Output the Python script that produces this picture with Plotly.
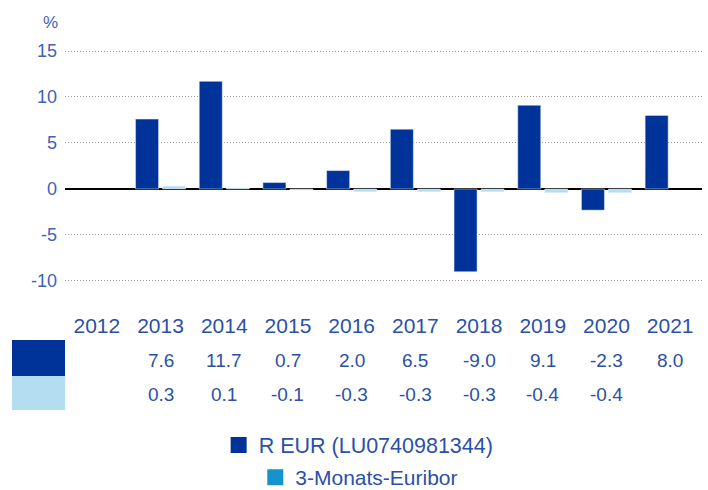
import plotly.graph_objects as go

years = ["2012", "2013", "2014", "2015", "2016", "2017", "2018", "2019", "2020", "2021"]
fund_name = "R EUR (LU0740981344)"
bench_name = "3-Monats-Euribor"
fund_values = [None, 7.6, 11.7, 0.7, 2.0, 6.5, -9.0, 9.1, -2.3, 8.0]
bench_values = [None, 0.3, 0.1, -0.1, -0.3, -0.3, -0.3, -0.4, -0.4, None]
y_ticks = [-10, -5, 0, 5, 10, 15]

DARK = "#003399"
LIGHT = "#b3ddf0"
LEG_LIGHT = "#1493cc"
TXT = "#2b50a8"
TICK = "#4062b8"
FONT = "Liberation Sans, Arial, sans-serif"

fig = go.Figure()
fig.add_trace(go.Bar(x=years, y=fund_values, marker_color=DARK, showlegend=False, name=fund_name))
fig.add_trace(go.Bar(x=years, y=bench_values, marker_color=LIGHT, showlegend=False, name=bench_name))

# legend entries (on a hidden helper axis pair)
fig.add_trace(go.Scatter(x=[0], y=[None], mode="markers", name=fund_name, xaxis="x2", yaxis="y2",
                         marker=dict(symbol="square", size=16, color=DARK), legend="legend"))
fig.add_trace(go.Scatter(x=[0], y=[None], mode="markers", name=bench_name, xaxis="x2", yaxis="y2",
                         marker=dict(symbol="square", size=16, color=LEG_LIGHT), legend="legend2"))

def fmt(v):
    return "" if v is None else f"{v:.1f}"

annotations = []
for i, (fv, bv) in enumerate(zip(fund_values, bench_values)):
    annotations.append(dict(x=i, xref="x", y=-0.2206, yref="paper", text=fmt(fv),
                            showarrow=False, yanchor="middle", font=dict(size=19, color=TXT, family=FONT)))
    annotations.append(dict(x=i, xref="x", y=-0.349, yref="paper", text=fmt(bv),
                            showarrow=False, yanchor="middle", font=dict(size=19, color=TXT, family=FONT)))
annotations.append(dict(x=-0.0235, xref="paper", y=1.022, yref="paper", text="%", showarrow=False,
                        xanchor="center", yanchor="middle", font=dict(size=17, color=TICK, family=FONT)))

shapes = [
    dict(type="rect", xref="paper", yref="paper", x0=-0.0832, x1=0, y0=-0.147, y1=-0.2794,
         fillcolor=DARK, line=dict(width=0)),
    dict(type="rect", xref="paper", yref="paper", x0=-0.0832, x1=0, y0=-0.2794, y1=-0.4044,
         fillcolor=LIGHT, line=dict(width=0)),
]

fig.update_layout(
    width=708, height=490,
    margin=dict(l=65, r=6, t=28, b=190, autoexpand=False),
    paper_bgcolor="white", plot_bgcolor="white",
    barmode="group", bargap=0.152, bargroupgap=0.148,
    font=dict(family=FONT, color=TXT),
    annotations=annotations, shapes=shapes,
    legend=dict(x=0.461, xanchor="center", y=-0.533, yanchor="middle",
                font=dict(size=21.5, color=TXT, family=FONT), bgcolor="rgba(0,0,0,0)"),
    legend2=dict(x=0.462, xanchor="center", y=-0.653, yanchor="middle",
                 font=dict(size=21, color=TXT, family=FONT), bgcolor="rgba(0,0,0,0)"),
    xaxis=dict(type="category", categoryorder="array", categoryarray=years, range=[-0.5, 9.5],
               showgrid=False, showline=False, ticks="", automargin=False, ticklabelstandoff=11,
               tickfont=dict(size=21, color=TXT, family=FONT)),
    yaxis=dict(range=[-12.07, 17.5], tickvals=y_ticks, ticktext=[str(t) for t in y_ticks],
               showgrid=True, gridcolor="#9a9a9a", griddash="1px,2px", gridwidth=1,
               zeroline=True, zerolinecolor="black", zerolinewidth=2, automargin=False,
               ticklabelstandoff=7,
               tickfont=dict(size=18, color=TICK, family=FONT), ticks="", showline=False),
    xaxis2=dict(overlaying="x", visible=False, range=[0, 1]),
    yaxis2=dict(overlaying="y", visible=False, range=[0, 1]),
)

fig.write_html("out.html", config={"displayModeBar": False},
               post_script="document.body.style.margin='0px';")
